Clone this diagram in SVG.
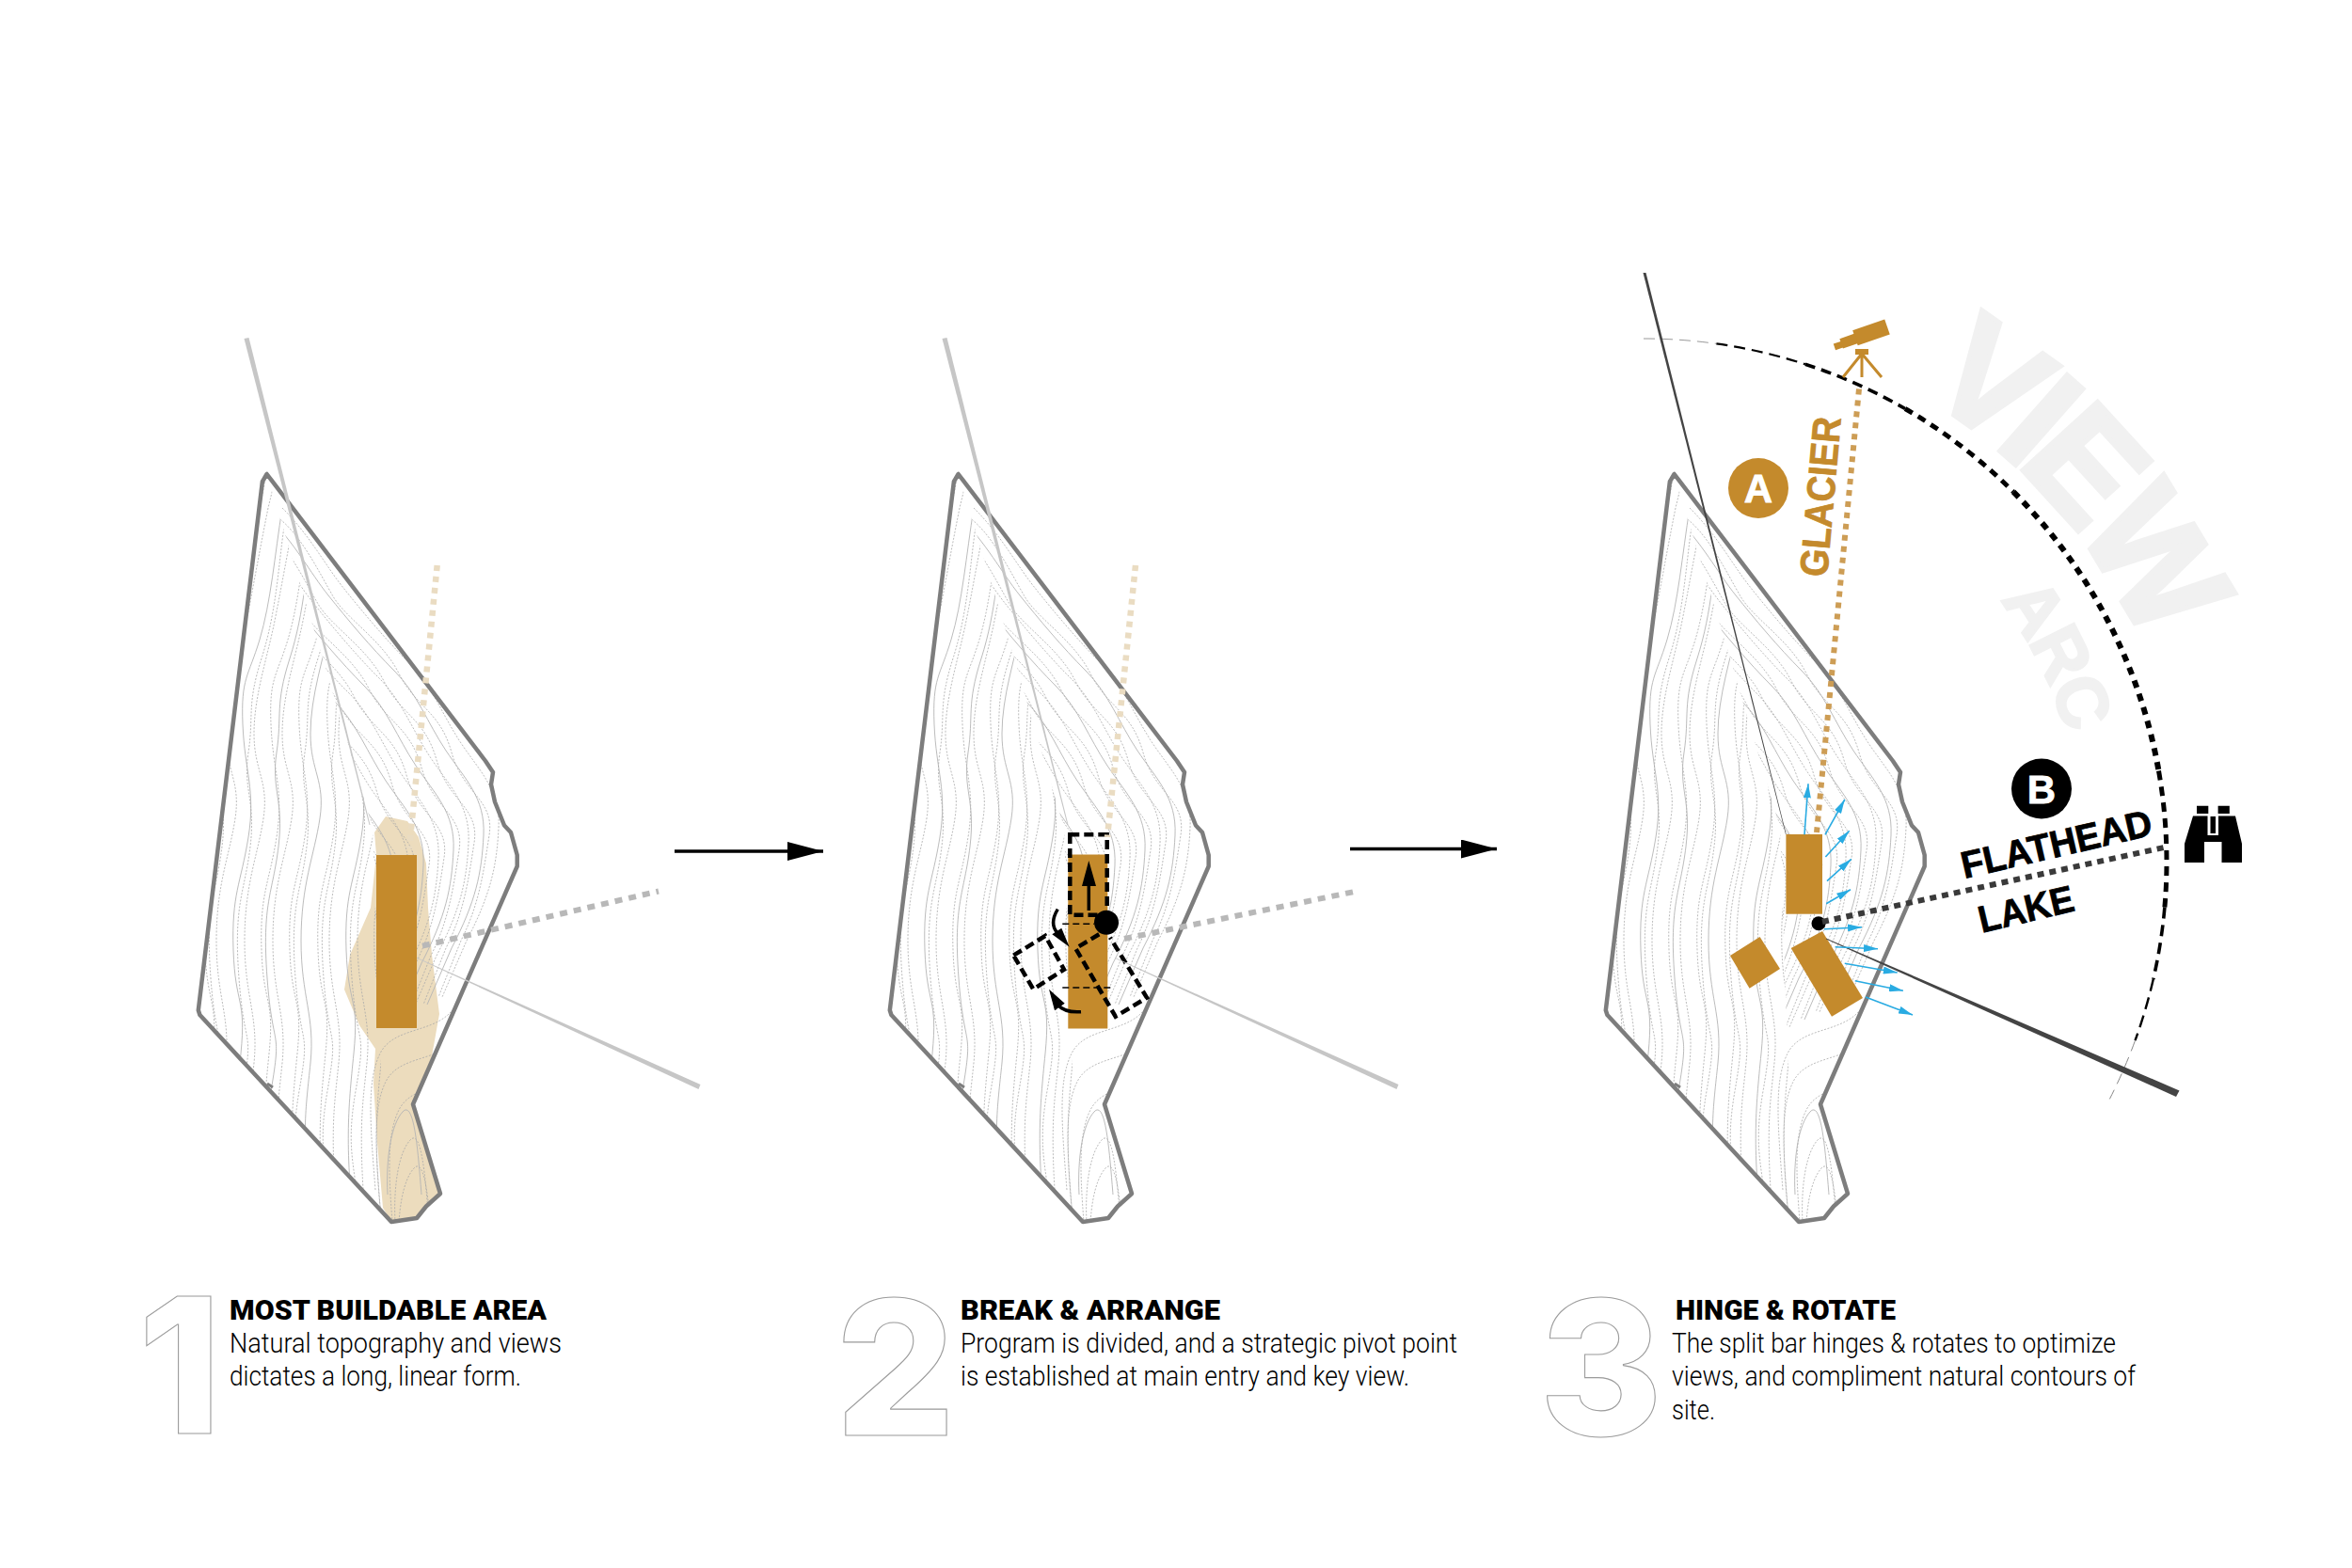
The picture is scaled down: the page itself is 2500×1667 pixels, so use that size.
<svg xmlns="http://www.w3.org/2000/svg" width="2500" height="1667" viewBox="0 0 2500 1667">
<style>
.site{fill:none;stroke:#7d7d7d;stroke-width:4.5;stroke-linejoin:round}
.dot{fill:none;stroke:#a9a9a9;stroke-width:.8;stroke-dasharray:2 1.6}
.sol{fill:none;stroke:#b4b4b4;stroke-width:.9}
.gold{fill:#c48a2c}
.taper{fill:#c6c6c6}
.dash{fill:none;stroke:#000;stroke-width:4.5;stroke-dasharray:10 5}
.thin{fill:none;stroke:#000;stroke-width:1.6;stroke-dasharray:7 4}
.sight{fill:none;stroke:#b8b8b8;stroke-width:6;stroke-dasharray:8 7}
.tan{fill:none;stroke:#eadcc2;stroke-width:6.5;stroke-dasharray:6 6}
.blue{fill:none;stroke:#29abe2;stroke-width:1.6;marker-end:url(#bh)}
.big{font-family:Inter,"Liberation Sans",sans-serif;font-weight:800;font-size:200px;fill:#fff;stroke:#9c9c9c;stroke-width:1.1}
.h{font-family:Roboto,"Liberation Sans",sans-serif;font-weight:900;font-size:30px;fill:#000}
.b{font-family:Roboto,"Liberation Sans",sans-serif;font-weight:300;font-size:30px;fill:#000}
.lab{font-family:"Liberation Sans",Arial,sans-serif;font-weight:700}
</style>
<defs>
<marker id="ah" markerUnits="userSpaceOnUse" markerWidth="40" markerHeight="22" refX="38" refY="10" orient="auto"><path d="M0 0L38 10L0 20Z" fill="#000"/></marker>
<marker id="bh" markerUnits="userSpaceOnUse" markerWidth="16" markerHeight="8" refX="15" refY="4" orient="auto"><path d="M0 0L15 4L0 8Z" fill="#29abe2"/></marker>
<clipPath id="cs"><polygon points="283.6,504 278.9,512 210.8,1074 212.4,1079 416,1299 443,1295 453,1282.5 468,1269 439,1174 549.7,921 549.7,909 543,885 536,877.5 526,852.5 522,834 524,821 516,809"/></clipPath>
<clipPath id="cl"><polygon points="283.6,504 278.9,512 210.8,1074 212.4,1079 416,1299 404,1120 396,880 340,690"/></clipPath>
<clipPath id="cr"><polygon points="283.6,504 340,690 396,880 404,1120 416,1299 443,1295 453,1282.5 468,1269 439,1174 549.7,921 549.7,909 543,885 536,877.5 526,852.5 522,834 524,821 516,809"/></clipPath>
<path id="la" d="M362 470L345 540C335 590 330 620 322 660S300 740 300 780S316 830 310 870S290 940 290 1000S305 1080 300 1130S290 1200 300 1320"/>
<path id="lb" d="M366 470L350 540C342 590 338 640 326 680S306 720 308 770S322 840 314 890S296 950 298 1010S312 1060 306 1120S296 1220 308 1320"/>
<path id="lc" d="M360 470L342 560C336 600 334 650 318 700S310 760 304 800S312 850 306 900S288 960 294 1040S310 1090 298 1160S300 1240 304 1320"/>
<path id="ra" d="M300 540C330 570 345 600 365 625S410 680 435 705S470 760 490 790S532 840 530 880S522 950 496 1000L470 1060"/>
<path id="rb" d="M300 544C326 560 348 606 362 630S414 676 432 712S476 752 488 796S534 846 528 884S518 956 498 996L474 1056"/>
<path id="ba" d="M405 1295C400 1230 395 1180 410 1150S470 1130 490 1100"/>
<path id="bb" d="M420 1300C418 1260 424 1225 436 1212S452 1250 456 1300"/>
<polygon id="ta" class="taper" points="259.5,360 264.5,359 393.5,877 392.5,877"/>
<polygon id="tb" class="taper" points="443,1018 744.5,1153 742.5,1158 443,1018.7"/>
<g id="topo">
<g clip-path="url(#cl)">
<use href="#la" class="dot" x="-150"/><use href="#lb" class="dot" x="-140"/><use href="#lc" class="sol" x="-130"/><use href="#la" class="dot" x="-120"/><use href="#lb" class="dot" x="-110"/><use href="#lc" class="dot" x="-100"/><use href="#la" class="sol" x="-90"/><use href="#lb" class="dot" x="-80"/><use href="#lc" class="dot" x="-70"/><use href="#la" class="dot" x="-60"/><use href="#lb" class="sol" x="-50"/><use href="#lc" class="dot" x="-40"/><use href="#la" class="dot" x="-30"/><use href="#lb" class="dot" x="-20"/><use href="#lc" class="sol" x="-10"/><use href="#la" class="dot"/><use href="#lb" class="dot" x="10"/><use href="#lc" class="dot" x="20"/><use href="#la" class="sol" x="30"/><use href="#lb" class="dot" x="40"/><use href="#lc" class="dot" x="50"/><use href="#la" class="dot" x="60"/><use href="#lb" class="sol" x="70"/><use href="#lc" class="dot" x="80"/><use href="#la" class="dot" x="90"/><use href="#lb" class="dot" x="100"/>
</g>
<g clip-path="url(#cr)">
<use href="#ra" class="dot"/><use href="#rb" class="dot" x="-8" y="4"/><use href="#ra" class="sol" x="-16" y="8"/><use href="#rb" class="dot" x="-24" y="12"/><use href="#ra" class="dot" x="-32" y="16"/><use href="#rb" class="dot" x="-40" y="20"/><use href="#ra" class="sol" x="-48" y="24"/><use href="#rb" class="dot" x="-56" y="28"/><use href="#ra" class="dot" x="-64" y="32"/><use href="#rb" class="dot" x="-72" y="36"/><use href="#ra" class="sol" x="-80" y="40"/><use href="#rb" class="dot" x="-88" y="44"/><use href="#ra" class="dot" x="-96" y="48"/><use href="#rb" class="dot" x="-104" y="52"/><use href="#ra" class="sol" x="-112" y="56"/><use href="#rb" class="dot" x="-120" y="60"/><use href="#ra" class="dot" x="-128" y="64"/><use href="#rb" class="dot" x="-136" y="68"/>
</g>
<g clip-path="url(#cs)">
<use href="#ba" class="dot"/><use href="#ba" class="dot" x="14" y="30"/><use href="#ba" class="dot" x="-6" y="-30"/>
<use href="#bb" class="dot"/><use href="#bb" class="dot" x="4" y="30"/><use href="#bb" class="sol" x="-8" y="-30"/>
</g>
<path d="M284 1152L290 1156" fill="none" stroke="#7d7d7d" stroke-width="3"/>
</g>
<polygon id="sitepoly" class="site" points="283.6,504 278.9,512 210.8,1074 212.4,1079 416,1299 443,1295 453,1282.5 468,1269 439,1174 549.7,921 549.7,909 543,885 536,877.5 526,852.5 522,834 524,821 516,809"/>
<path id="viewarc" d="M2044.7 420.6A578 578 0 0 1 2305.3 766.4"/>
<path id="arcarc" d="M2122.3 633.1A470 470 0 0 1 2209.9 834.4"/>
</defs>
<rect width="2500" height="1667" fill="#fff"/>

<g id="panel-1">
<polygon fill="#ecdcbd" points="398,885 410,868 433,873 445,890 453,918 455,965 459,1015 467,1078 457,1134 439,1174 468,1269 453,1282.5 443,1295 416,1299 407,1284 401,1215 397,1152 399,1115 382,1090 366,1052 372,1015 394,965 400,909"/>
<use href="#topo"/>
<use href="#sitepoly"/>
<rect class="gold" x="400" y="909" width="43" height="184"/>
</g>

<g id="panel-2">
<use href="#topo" transform="translate(735,0)"/>
<use href="#sitepoly" transform="translate(735,0)"/>
<rect class="gold" x="1135.3" y="908.5" width="42" height="185"/>
<rect class="dash" x="1137.3" y="887.3" width="39.4" height="85.4"/>
<path d="M1157.3 968V940" stroke="#000" stroke-width="3.5" fill="none"/>
<path d="M1157.3 915L1150 942H1165Z" fill="#000"/>
<circle cx="1176" cy="980.7" r="13" fill="#000"/>
<path class="thin" d="M1129.3 982.3H1163M1129.3 1050H1181.7"/>
<path class="dash" d="M1168.3 993.3L1143.3 1008.3L1185.7 1080.7L1219 1060.7L1180 996.7"/>
<polygon class="dash" points="1077.3,1015.7 1111,995 1131,1030.7 1098.3,1051.7"/>
<path d="M1124.3 966.7Q1115 982 1124 992" fill="none" stroke="#000" stroke-width="3.5"/>
<path d="M1118.3 993.3L1128.3 986.7L1136.7 1006.7Z" fill="#000"/>
<path d="M1149 1075.7Q1132 1077 1124 1068" fill="none" stroke="#000" stroke-width="3.5"/>
<path d="M1115 1051.7L1131.7 1066.7L1121 1074.3Z" fill="#000"/>
</g>

<g id="panel-3">
<use href="#topo" transform="translate(1496,0)"/>
<use href="#sitepoly" transform="translate(1496,0)"/>
<rect class="gold" x="1898.4" y="887" width="38.6" height="84.7"/>
<polygon class="gold" points="1839,1016 1870.6,996 1892,1030 1859.6,1050.7"/>
<polygon class="gold" points="1903.7,1008 1937,990 1980,1061 1947,1080.7"/>
<circle cx="1933" cy="981.7" r="7.5" fill="#000"/>
</g>

<g id="view-arc">
<text class="lab" font-size="157" letter-spacing="-12" fill="#f1f1f1" stroke="#f1f1f1" stroke-width="5"><textPath href="#viewarc" startOffset="-3">VIEW</textPath></text>
<text class="lab" font-size="76" letter-spacing="-2" fill="#f1f1f1" stroke="#f1f1f1" stroke-width="2.5"><textPath href="#arcarc" startOffset="6">ARC</textPath></text>
<g fill="none" stroke="#000">
<path d="M1747 360A556 556 0 0 1 1824.4 365.4" stroke="#999" stroke-width="1" stroke-dasharray="12 7"/>
<path d="M1824.4 365.4A556 556 0 0 1 1918.8 387.2" stroke-width="2.2" stroke-dasharray="12 7"/>
<path d="M1918.8 387.2A556 556 0 0 1 2025 434.5" stroke-width="3.6" stroke-dasharray="11 7"/>
<path d="M2025 434.5A556 556 0 0 1 2140.1 522.9" stroke-width="5" stroke-dasharray="9 7"/>
<path d="M2140.1 522.9A556 556 0 0 1 2294.5 819.5" stroke-width="6" stroke-dasharray="8 7"/>
<path d="M2294.5 819.5A556 556 0 0 1 2300.9 964.5" stroke-width="5" stroke-dasharray="10 7"/>
<path d="M2300.9 964.5A556 556 0 0 1 2288.8 1041" stroke-width="3.6" stroke-dasharray="12 7"/>
<path d="M2288.8 1041A556 556 0 0 1 2269.5 1106.2" stroke-width="2.4" stroke-dasharray="13 7"/>
<path d="M2269.5 1106.2A556 556 0 0 1 2242.4 1168.4" stroke="#888" stroke-width="1" stroke-dasharray="12 7"/>
</g>
</g>

<g id="connectors">
<use href="#ta"/><use href="#tb"/>
<use href="#ta" transform="translate(742,0)"/><use href="#tb" transform="translate(742,0)"/>
<path class="tan" d="M464.7 601L435 902"/>
<path class="tan" d="M1207 601L1177 890"/>
<path class="sight" d="M449 1005.6L700 947.5"/>
<path class="sight" d="M1195 998L1442 947.5"/>
<path d="M717 905H875" stroke="#000" stroke-width="3.5" marker-end="url(#ah)"/>
<path d="M1435 902.5H1591" stroke="#000" stroke-width="3.5" marker-end="url(#ah)"/>
<polygon fill="#444" points="1746.5,290 1749.5,290 1898.6,887 1898,887"/>
<polygon fill="#444" points="1941,997.5 2316.5,1159.5 2313,1166 1941,998.5"/>
<path d="M1976 413.5L1931 885" fill="none" stroke="#cd9d55" stroke-width="6" stroke-dasharray="6 6"/>
<path d="M1937 980L2304.5 900" fill="none" stroke="#3a3a3a" stroke-width="6" stroke-dasharray="7 6"/>
<g>
<path class="blue" d="M1918 887.3L1922 833.3"/>
<path class="blue" d="M1940 887.3L1960.8 850"/>
<path class="blue" d="M1940.4 911L1965.7 883.3"/>
<path class="blue" d="M1942 936.7L1967.8 913.3"/>
<path class="blue" d="M1941.2 960.7L1967 945.7"/>
<path class="blue" d="M1939 987.7L1979 985.7"/>
<path class="blue" d="M1950.6 1006.7L1996 1008.7"/>
<path class="blue" d="M1960.8 1024.3L2016.7 1034"/>
<path class="blue" d="M1971.8 1042.7L2022.9 1053.3"/>
<path class="blue" d="M1982.9 1060L2033 1079"/>
</g>
</g>

<g id="glacier">
<circle class="gold" cx="1869" cy="519" r="32"/>
<text class="lab" x="1869" y="534" font-size="42" fill="#fff" text-anchor="middle" stroke="#fff" stroke-width=".8">A</text>
<text class="lab" font-size="42" fill="#c48a2c" stroke="#c48a2c" stroke-width=".8" textLength="170" lengthAdjust="spacingAndGlyphs" transform="translate(1942,614) rotate(-85)">GLACIER</text>
<g transform="translate(1980,358) rotate(-19)" class="gold">
<rect x="-8" y="-10" width="36" height="17"/>
<rect x="-24" y="-6" width="17" height="11"/>
<rect x="-32" y="-3" width="9" height="7"/>
</g>
<rect class="gold" x="1972" y="371" width="14" height="6"/>
<path d="M1979 376L1959 401M1979 376V401M1979 376L2000 401" fill="none" stroke="#c48a2c" stroke-width="3"/>
</g>

<g id="flathead">
<circle cx="2170" cy="838.5" r="32" fill="#000"/>
<text class="lab" x="2170" y="853.5" font-size="42" fill="#fff" text-anchor="middle" stroke="#fff" stroke-width=".8">B</text>
<text class="lab" font-size="40" fill="#000" stroke="#000" stroke-width=".8" textLength="207" lengthAdjust="spacingAndGlyphs" transform="translate(2088,934) rotate(-13)">FLATHEAD</text>
<text class="lab" font-size="40" fill="#000" stroke="#000" stroke-width=".8" textLength="103" lengthAdjust="spacingAndGlyphs" transform="translate(2106.5,991.7) rotate(-13.3)">LAKE</text>
<path d="M2335 856.7H2347.3V865H2335ZM2357.6 856.7H2369.8V865H2357.6ZM2331 867.5H2346.5V888H2358V867.5H2376L2383 897V917H2361.5V895H2343V917H2322V897ZM2349.5 868H2355V886H2349.5Z" fill="#000" fill-rule="evenodd"/>
</g>

<g id="caption-1">
<text class="big" x="147" y="1524">1</text>
<text class="h" x="244" y="1403" textLength="337" lengthAdjust="spacingAndGlyphs">MOST BUILDABLE AREA</text>
<text class="b" x="244" y="1438" textLength="353" lengthAdjust="spacingAndGlyphs">Natural topography and views</text>
<text class="b" x="244" y="1473" textLength="310" lengthAdjust="spacingAndGlyphs">dictates a long, linear form.</text>
</g>
<g id="caption-2">
<text class="big" x="888" y="1526">2</text>
<text class="h" x="1021" y="1403" textLength="276" lengthAdjust="spacingAndGlyphs">BREAK &amp; ARRANGE</text>
<text class="b" x="1021" y="1438" textLength="528" lengthAdjust="spacingAndGlyphs">Program is divided, and a strategic pivot point</text>
<text class="b" x="1021" y="1473" textLength="477" lengthAdjust="spacingAndGlyphs">is established at main entry and key view.</text>
</g>
<g id="caption-3">
<text class="big" x="1636" y="1526">3</text>
<text class="h" x="1781" y="1403" textLength="234" lengthAdjust="spacingAndGlyphs">HINGE &amp; ROTATE</text>
<text class="b" x="1777" y="1438" textLength="472" lengthAdjust="spacingAndGlyphs">The split bar hinges &amp; rotates to optimize</text>
<text class="b" x="1777" y="1473" textLength="493" lengthAdjust="spacingAndGlyphs">views, and compliment natural contours of</text>
<text class="b" x="1777" y="1509" textLength="46" lengthAdjust="spacingAndGlyphs">site.</text>
</g>
</svg>
